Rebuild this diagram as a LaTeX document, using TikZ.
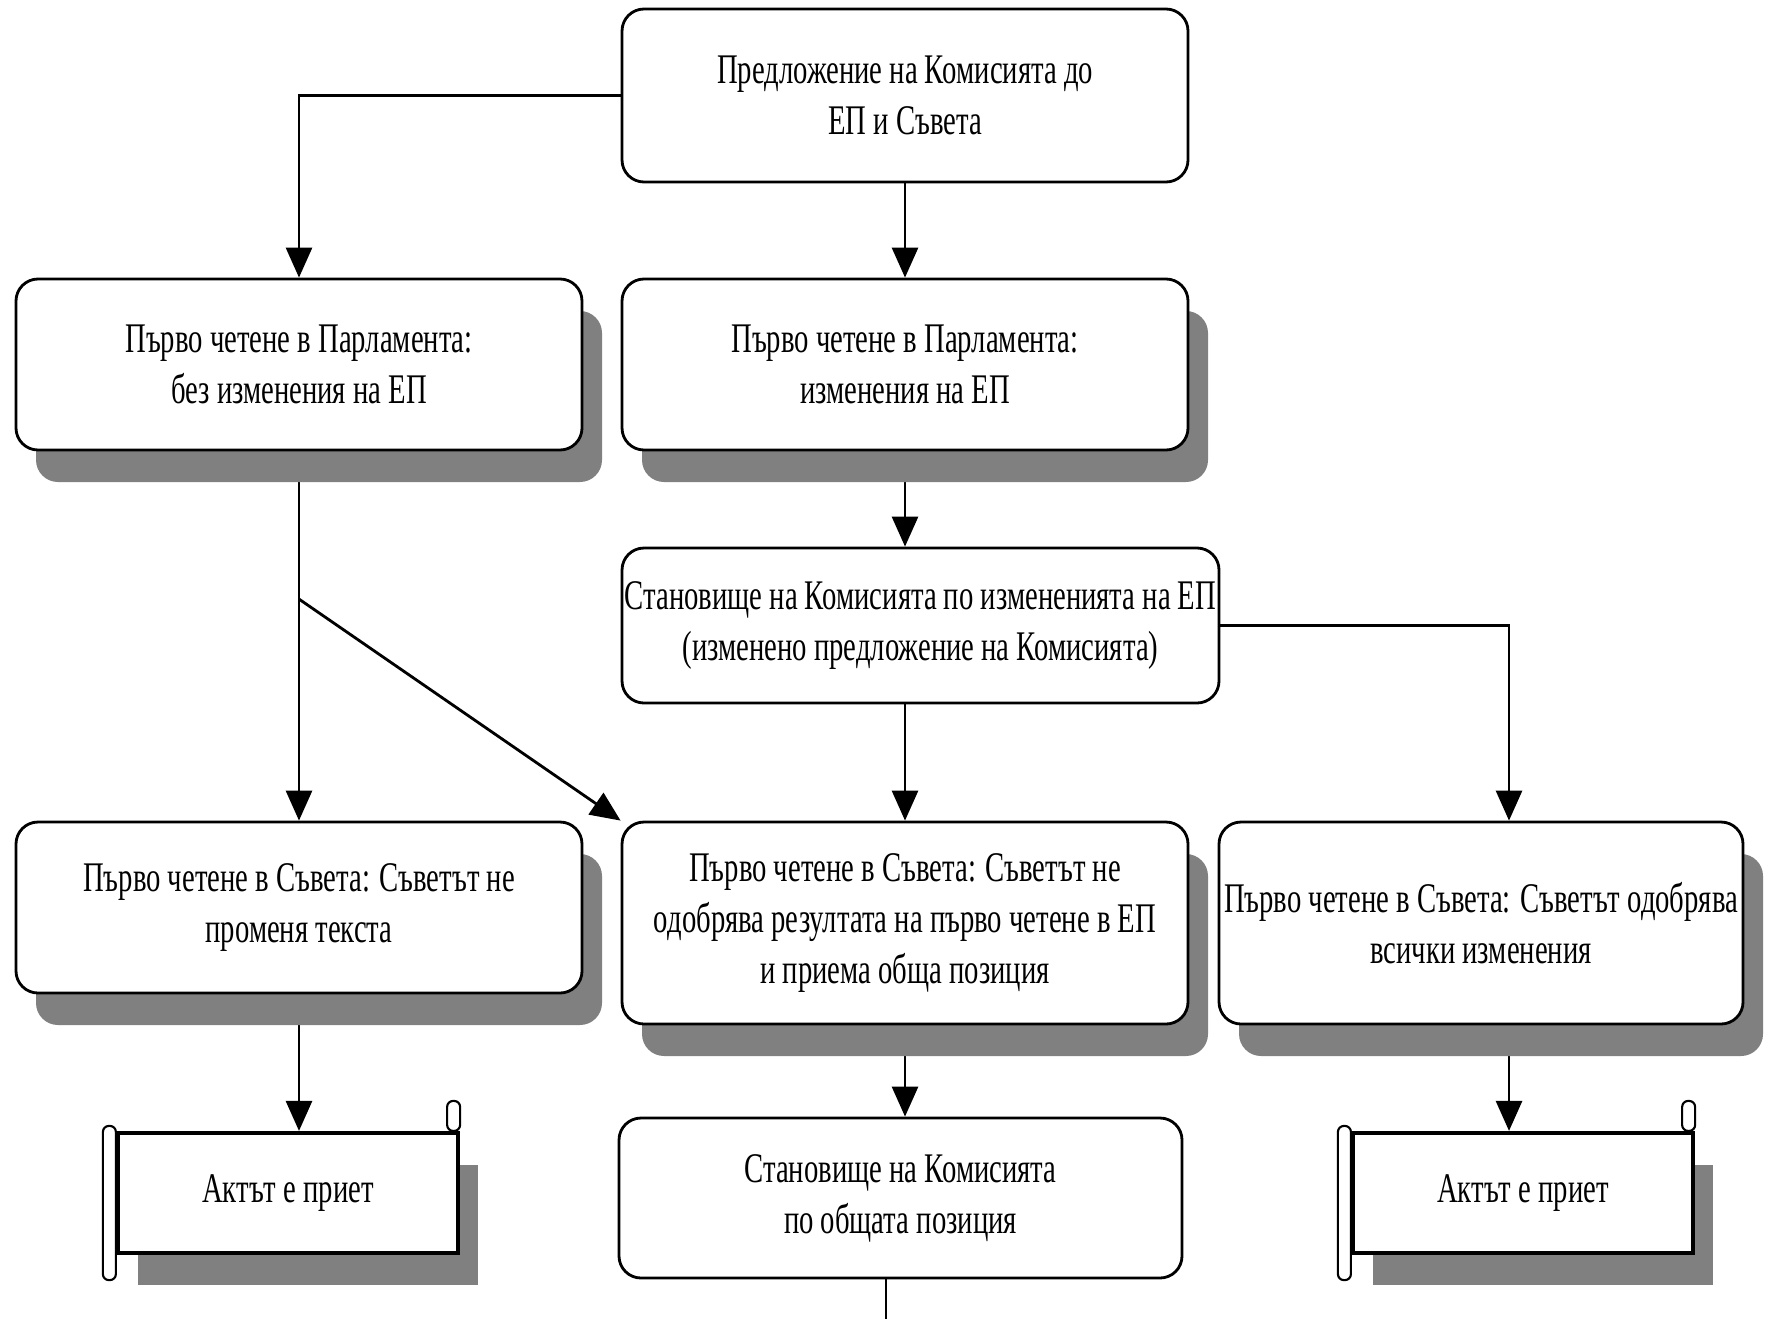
\documentclass[tikz,border=0pt]{standalone}
\usepackage{fontspec}
\setmainfont[FakeStretch=0.68]{Liberation Serif}
\usetikzlibrary{arrows.meta,shadows,backgrounds,calc}
\tikzset{
  stage/.style={draw, line width=0.8pt, rounded corners=0.22cm, fill=white,
    align=center, inner sep=0pt, font=\fontsize{12}{14.5}\selectfont},
  shade box/.style={drop shadow={shadow xshift=0.2cm, shadow yshift=-0.32cm, fill=gray, opacity=1}},
  scroll/.style={draw, line width=1.2pt, fill=white, inner sep=0pt,
    minimum width=3.4cm, minimum height=1.2cm, font=\fontsize{12}{14.5}\selectfont},
  curl/.style={draw, line width=0.6pt, fill=white, rounded corners=0.06cm},
  flow/.style={line width=0.8pt, -{Triangle[width=0.26cm,length=0.3cm]}},
  link/.style={line width=0.8pt}
}
\begin{document}
\begin{tikzpicture}
  \useasboundingbox (0,0) rectangle (17.65,-13.19);
  % proposal
  \node[stage, minimum width=5.66cm, minimum height=1.73cm] (prop) at (9.05,-0.955)
    {Предложение на Комисията до\\ЕП и Съвета};
  % first reading, parliament
  \node[stage, shade box, minimum width=5.66cm, minimum height=1.71cm] (parlA) at (2.99,-3.645)
    {Първо четене в Парламента:\\без изменения на ЕП};
  \node[stage, shade box, minimum width=5.66cm, minimum height=1.71cm] (parlB) at (9.05,-3.645)
    {Първо четене в Парламента:\\изменения на ЕП};
  \node[stage, minimum width=5.97cm, minimum height=1.55cm] (opinion) at (9.205,-6.255)
    {Становище на Комисията по измененията на ЕП\\(изменено предложение на Комисията)};
  % first reading, council
  \node[stage, shade box, minimum width=5.66cm, minimum height=1.71cm] (councilA) at (2.99,-9.075)
    {Първо четене в Съвета: Съветът не\\променя текста};
  \node[stage, shade box, minimum width=5.66cm, minimum height=2.02cm] (councilB) at (9.05,-9.23)
    {Първо четене в Съвета: Съветът не\\одобрява резултата на първо четене в ЕП\\и приема обща позиция};
  \node[stage, shade box, minimum width=5.24cm, minimum height=2.02cm] (councilC) at (14.81,-9.23)
    {Първо четене в Съвета: Съветът  одобрява\\всички изменения};
  % outcome
  \node[scroll, shade box] (actA) at (2.88,-11.93) {Актът е приет};
  \draw[curl] ($(actA.north west)+(-0.13,0.05)$) rectangle ($(actA.south west)+(0,-0.25)$);
  \draw[curl] ($(actA.north east)+(-0.13,0.3)$) rectangle (actA.north east);
  \node[stage, minimum width=5.63cm, minimum height=1.60cm] (common) at (9.005,-11.98)
    {Становище на Комисията\\по общата позиция};
  \node[scroll, shade box] (actB) at (15.23,-11.93) {Актът е приет};
  \draw[curl] ($(actB.north west)+(-0.13,0.05)$) rectangle ($(actB.south west)+(0,-0.25)$);
  \draw[curl] ($(actB.north east)+(-0.13,0.3)$) rectangle (actB.north east);
  % connectors
  \coordinate (fork) at ($(parlA.south)!0.4!(councilA.north)$);
  \coordinate (turn) at ($(councilC.north)+(0.28,0)$);
  \coordinate (tail) at (8.86,-13.19);
  \begin{scope}[on background layer]
    \draw[flow] (prop.west) -| (parlA.north);
    \draw[flow] (prop.south) -- (parlB.north);
    \draw[flow] (parlB.south) -- (parlB.south |- opinion.north);
    \draw[flow] (opinion.east) -| (turn);
    \draw[flow] (councilB.north |- opinion.south) -- (councilB.north);
    \draw[flow] (parlA.south) -- (councilA.north);
    \draw[flow] (fork) -- (councilB.north west);
    \draw[flow] (councilA.south) -- (councilA.south |- actA.north);
    \draw[flow] (councilB.south) -- (councilB.south |- common.north);
    \draw[flow] (turn |- councilC.south) -- (turn |- actB.north);
    \draw[link] (common.south -| tail) -- (tail);
  \end{scope}
\end{tikzpicture}
\end{document}
